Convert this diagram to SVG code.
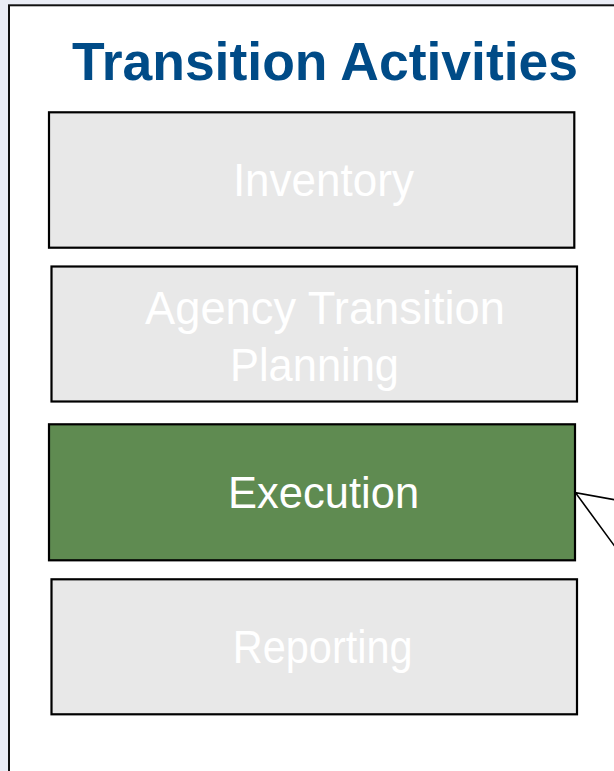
<svg xmlns="http://www.w3.org/2000/svg" width="614" height="771" viewBox="0 0 614 771">
<style>
.box{stroke:#000;stroke-width:2.2}
.grey{fill:#e8e8e8}
.green{fill:#5f8b51}
.lbl{font-family:"Liberation Sans",Arial,sans-serif;font-size:46.5px;fill:#fff;text-anchor:middle}
.title{font-family:"Liberation Sans",Arial,sans-serif;font-size:53px;font-weight:bold;fill:#004b87;text-anchor:middle}
.conn{stroke:#000;stroke-width:1.6;fill:none}
</style>
<rect x="0" y="0" width="614" height="771" fill="#eaedf6"/>
<rect x="9" y="5.3" width="640" height="800" fill="#fff" stroke="#111" stroke-width="2"/>
<text class="title" x="325" y="80" textLength="506" lengthAdjust="spacingAndGlyphs">Transition Activities</text>
<g id="inventory">
<rect class="box grey" x="49" y="112.3" width="525.3" height="135.4"/>
<text class="lbl" x="323.4" y="196" textLength="181" lengthAdjust="spacingAndGlyphs">Inventory</text>
</g>
<g id="planning">
<rect class="box grey" x="51.5" y="266.5" width="525.5" height="135"/>
<text class="lbl" x="325" y="323.5" textLength="360" lengthAdjust="spacingAndGlyphs">Agency Transition</text>
<text class="lbl" x="314.5" y="381" textLength="169" lengthAdjust="spacingAndGlyphs">Planning</text>
</g>
<g id="execution">
<rect class="box green" x="49" y="424.3" width="526" height="136"/>
<text class="lbl" x="323.6" y="507.5" textLength="191" lengthAdjust="spacingAndGlyphs" style="font-size:44.5px">Execution</text>
</g>
<g id="reporting">
<rect class="box grey" x="51.5" y="579.3" width="525.5" height="135"/>
<text class="lbl" x="322.7" y="663" textLength="180" lengthAdjust="spacingAndGlyphs">Reporting</text>
</g>
<g id="connectors">
<polyline class="conn" points="616,500 575.5,492.7 616,548"/>
</g>
</svg>
